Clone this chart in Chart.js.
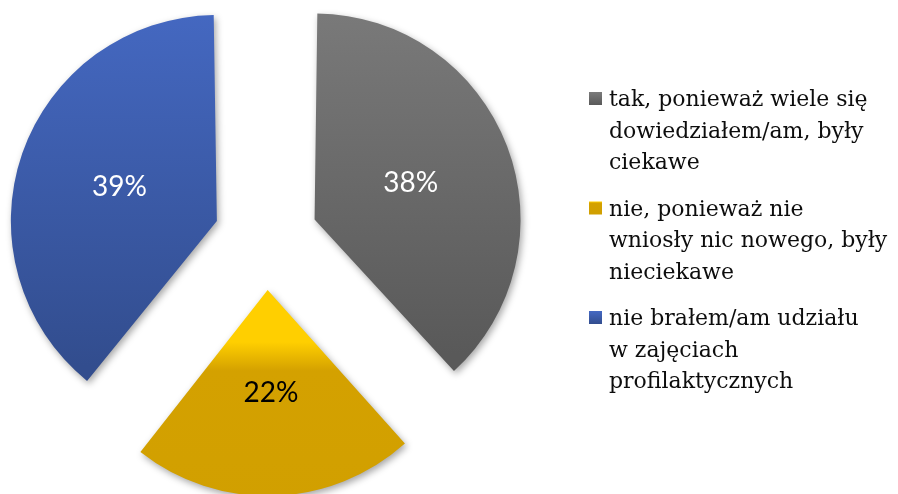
<!DOCTYPE html>
<html lang="pl">
<head>
<meta charset="utf-8">
<title>Zajęcia profilaktyczne</title>
<script src="https://cdn.jsdelivr.net/npm/chart.js@4.4.1/dist/chart.umd.min.js"></script>
<style>
  html, body { margin: 0; padding: 0; background: #fff; }
  #wrap { position: relative; width: 898px; height: 494px; }
</style>
</head>
<body>
<div id="wrap"><canvas id="pie"></canvas></div>
<script>
// answers, one legend line per entry
const labels = [
  ['tak, ponieważ wiele się', 'dowiedziałem/am, były', 'ciekawe'],
  ['nie, ponieważ nie', 'wniosły nic nowego, były', 'nieciekawe'],
  ['nie brałem/am udziału', 'w zajęciach', 'profilaktycznych']
];
const values = [38, 22, 39];

// top -> bottom colour stops for each slice
const fills = [
  [[0, '#7b7b7b'], [1, '#595959']],
  [[0, '#ffcf00'], [0.14, '#d4a100'], [1, '#d09f00']],
  [[0, '#4569c3'], [1, '#324d8e']]
];
const labelColors = ['#ffffff', '#000000', '#ffffff'];

const RADIUS = 206;
const EXPLODE = 52;

// vertical extent of an exploded slice
function sliceBounds(arc) {
  const {y, startAngle, endAngle} = arc;
  const mid = (startAngle + endAngle) / 2;
  const cy = y + Math.sin(mid) * EXPLODE;
  const ys = [cy, cy + Math.sin(startAngle) * RADIUS, cy + Math.sin(endAngle) * RADIUS];
  [-Math.PI / 2, Math.PI / 2, 3 * Math.PI / 2].forEach(a => {
    if (a > startAngle && a < endAngle) ys.push(cy + Math.sin(a) * RADIUS);
  });
  return [Math.min(...ys), Math.max(...ys)];
}

// the arc element grows wide slices by offset/4 * (1 - sin(circumference));
// shrink them back so every slice keeps the same radius, then set the gradient
const slicePrep = {
  id: 'slicePrep',
  beforeDatasetsDraw(chart) {
    const ctx = chart.ctx;
    chart.getDatasetMeta(0).data.forEach((arc, i) => {
      const fix = 1 - Math.sin(Math.min(Math.PI, arc.circumference));
      arc.outerRadius = RADIUS - (arc.options.offset / 4) * fix;
      const [top, bottom] = sliceBounds(arc);
      const g = ctx.createLinearGradient(0, top, 0, bottom);
      fills[i].forEach(([p, c]) => g.addColorStop(p, c));
      arc.options.backgroundColor = g;
    });
  }
};

const sliceShadow = {
  id: 'sliceShadow',
  beforeDatasetDraw(chart) {
    const ctx = chart.ctx;
    ctx.save();
    ctx.shadowColor = 'rgba(0,0,0,0.35)';
    ctx.shadowBlur = 7;
    ctx.shadowOffsetX = 2;
    ctx.shadowOffsetY = 3;
  },
  afterDatasetDraw(chart) {
    chart.ctx.restore();
  }
};

const sliceValues = {
  id: 'sliceValues',
  afterDatasetsDraw(chart) {
    const ctx = chart.ctx;
    ctx.save();
    ctx.font = '28px Lato, "Open Sans", sans-serif';
    ctx.textAlign = 'center';
    ctx.textBaseline = 'middle';
    chart.getDatasetMeta(0).data.forEach((arc, i) => {
      const mid = (arc.startAngle + arc.endAngle) / 2;
      const d = EXPLODE + RADIUS * 0.5;
      ctx.fillStyle = labelColors[i];
      ctx.fillText(values[i] + '%', arc.x + Math.cos(mid) * d, arc.y + Math.sin(mid) * d);
    });
    ctx.restore();
  }
};

const sideLegend = {
  id: 'sideLegend',
  afterDraw(chart, args, o) {
    const ctx = chart.ctx;
    ctx.save();
    ctx.font = o.font;
    let y = o.top;
    chart.data.labels.forEach((lines, i) => {
      const g = ctx.createLinearGradient(0, y - 14, 0, y - 1);
      fills[i].forEach(([p, c]) => g.addColorStop(p, c));
      ctx.fillStyle = g;
      ctx.fillRect(o.boxX, y - 14, 13, 13);
      ctx.fillStyle = o.color;
      lines.forEach((line, j) => ctx.fillText(line, o.textX, y + j * o.lineHeight));
      y += lines.length * o.lineHeight + o.gap;
    });
    ctx.restore();
  }
};

new Chart(document.getElementById('pie'), {
  type: 'pie',
  data: {
    labels: labels,
    datasets: [{
      data: values,
      backgroundColor: fills.map(f => f[f.length - 1][1]),
      borderWidth: 0,
      offset: EXPLODE * 4
    }]
  },
  options: {
    responsive: true,
    maintainAspectRatio: false,
    animation: false,
    events: [],
    radius: RADIUS,
    layout: { padding: { left: 0, top: 0, right: 366, bottom: 18 } },
    plugins: {
      legend: { display: false },
      tooltip: { enabled: false },
      sideLegend: {
        font: '22px "DejaVu Serif"',
        color: '#0d0d0d',
        boxX: 589,
        textX: 609,
        top: 106,
        lineHeight: 31.5,
        gap: 15
      }
    }
  },
  plugins: [slicePrep, sliceShadow, sliceValues, sideLegend]
});
</script>
</body>
</html>
